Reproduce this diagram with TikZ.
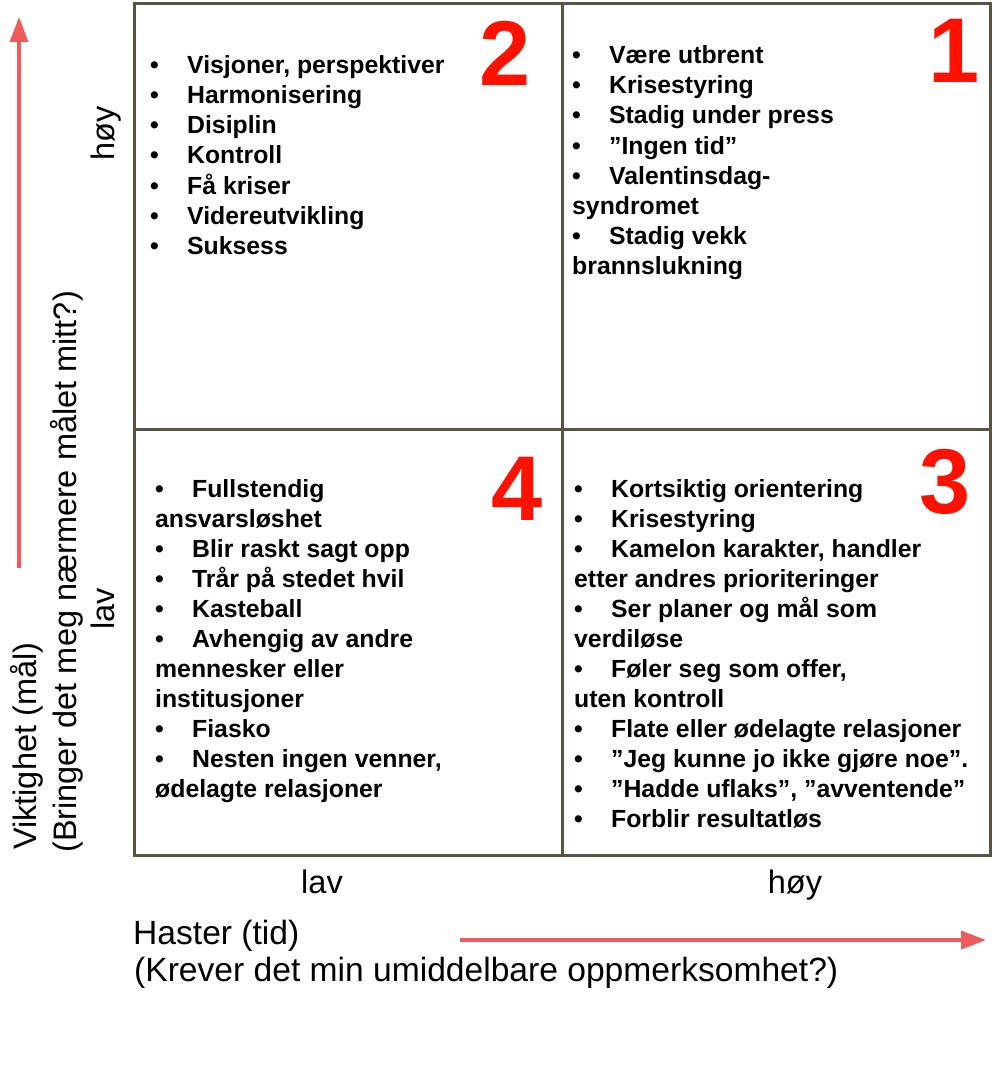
\documentclass[tikz,border=0pt]{standalone}
\usepackage{fontspec}
\setmainfont{Liberation Sans}
\usetikzlibrary{arrows.meta}
\definecolor{gridgray}{HTML}{5A5447}
\definecolor{axisred}{HTML}{F05A5A}
\definecolor{numred}{HTML}{FF1100}
\newcommand{\bul}{\makebox[37pt][l]{\textbullet}}
\tikzset{x=1pt, y=-1pt,
  grid/.style={draw=gridgray, line width=3pt}, % frame and cross
  item/.style={anchor=base west, inner sep=0pt, font=\bfseries\fontsize{24.8}{30}\selectfont},
  quadnum/.style={anchor=base, inner sep=0pt, text=numred, font=\bfseries\fontsize{92}{92}\selectfont},
  axislabel/.style={inner sep=0pt, font=\fontsize{32.5}{38}\selectfont},
  axistitle/.style={axislabel, font=\fontsize{33.6}{38}\selectfont},
  axisarrow/.style={draw=axisred, line width=3.5pt, -{Triangle[length=25pt,width=18pt]}},
}

\begin{document}
\begin{tikzpicture}
  \useasboundingbox[fill=white] (0,0) rectangle (993,1089);

  % the four quadrants
  \coordinate (nw) at (134,4);
  \coordinate (se) at (990,855);
  \coordinate (mtop) at (562,4);
  \coordinate (mbot) at (562,855);
  \coordinate (mleft) at (134,429);
  \coordinate (mright) at (990,429);
  \draw[grid] (nw) rectangle (se);
  \draw[grid] (mtop) -- (mbot) (mleft) -- (mright);

  \node[quadnum] (n2) at (505.5,86) {2};
  \node[quadnum] (n1) at (954,83) {1};
  \node[quadnum] (n4) at (517.5,520) {4};
  \node[quadnum] (n3) at (945,513) {3};

  % quadrant 2
  \foreach \txt [count=\i from 0] in {{\bul Visjoner, perspektiver}, \bul Harmonisering,
      \bul Disiplin, \bul Kontroll, \bul Få kriser, \bul Videreutvikling, \bul Suksess}
    \node[item] (q2-\i) at (150,74+30*\i) {\txt};

  % quadrant 1
  \foreach \txt [count=\i from 0] in {\bul Være utbrent, \bul Krisestyring,
      \bul Stadig under press, \bul ”Ingen tid”, \bul Valentinsdag-, syndromet,
      \bul Stadig vekk, brannslukning}
    \node[item] (q1-\i) at (572,64+30*\i) {\txt};

  % quadrant 4
  \foreach \txt [count=\i from 0] in {\bul Fullstendig, ansvarsløshet,
      \bul Blir raskt sagt opp, \bul Trår på stedet hvil, \bul Kasteball,
      \bul Avhengig av andre, mennesker eller, institusjoner, \bul Fiasko,
      {\bul Nesten ingen venner,}, ødelagte relasjoner}
    \node[item] (q4-\i) at (155,497+30*\i) {\txt};

  % quadrant 3
  \foreach \txt [count=\i from 0] in {\bul Kortsiktig orientering, \bul Krisestyring,
      {\bul Kamelon karakter, handler}, etter andres prioriteringer,
      \bul Ser planer og mål som, verdiløse, {\bul Føler seg som offer,},
      uten kontroll, \bul Flate eller ødelagte relasjoner,
      \bul ”Jeg kunne jo ikke gjøre noe”., {\bul ”Hadde uflaks”, ”avventende”},
      \bul Forblir resultatløs}
    \node[item] (q3-\i) at (574,497+30*\i) {\txt};

  % axes
  \node[axislabel, rotate=90, anchor=base] (yhigh) at (114,133) {høy};
  \node[axislabel, rotate=90, anchor=base] (ylow) at (114,609) {lav};
  \node[axislabel, rotate=90, anchor=base west] (ytitle) at (36,850) {Viktighet (mål)};
  \node[axislabel, rotate=90, anchor=base west] (yquest) at (76,853) {(Bringer det meg nærmere målet mitt?)};
  \node[axislabel, anchor=base] (xlow) at (322,893) {lav};
  \node[axislabel, anchor=base] (xhigh) at (795,893) {høy};
  \node[axistitle, anchor=base west] (xtitle) at (133,944) {Haster (tid)};
  \node[axistitle, anchor=base west] (xquest) at (134,981) {(Krever det min umiddelbare oppmerksomhet?)};

  \coordinate (ystart) at (19,568);
  \coordinate (yend) at (19,17);
  \coordinate (xstart) at (460,940);
  \coordinate (xend) at (986,940);
  \draw[axisarrow] (ystart) -- (yend);
  \draw[axisarrow] (xstart) -- (xend);
\end{tikzpicture}
\end{document}
